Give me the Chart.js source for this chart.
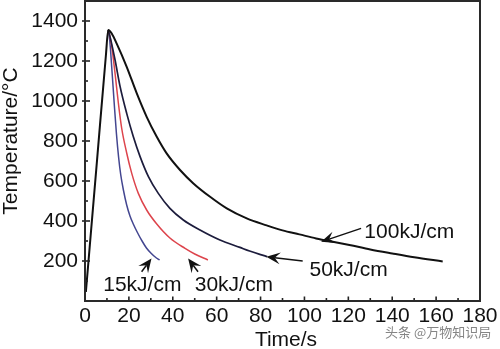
<!DOCTYPE html>
<html>
<head>
<meta charset="utf-8">
<script src="https://cdn.jsdelivr.net/npm/chart.js@4.4.0/dist/chart.umd.min.js"></script>
<style>
  html, body { margin: 0; padding: 0; background: #fff; }
  canvas { display: block; }
</style>
</head>
<body>
<canvas id="cooling" width="500" height="349"></canvas>
<script>
// Thermal cycles for different heat inputs (time in s, temperature in °C)
const heatInputs = ['100kJ/cm', '50kJ/cm', '30kJ/cm', '15kJ/cm'];

const time100 = [0.4, 5.5, 9.5, 10.6, 12.3, 14.4, 19, 23.6, 28.1, 32.7, 37.2, 43.3, 49.4, 57, 64.6, 73.7, 82.8, 90, 97.7, 105.3, 112.9, 120.5, 130, 140, 150, 163];
const temp100 = [45, 706, 1225, 1355, 1335, 1288, 1171, 1038, 921, 821, 738, 655, 588, 521, 463, 413, 378, 353, 333, 313, 296, 280, 258, 238, 219, 198];

const time50 = [10.6, 11.4, 13.7, 16, 19, 22, 25.1, 28.9, 33.4, 38.7, 44.8, 52.4, 61.5, 70.6, 75, 80, 83];
const temp50 = [1355, 1322, 1205, 1072, 938, 822, 722, 622, 538, 463, 405, 355, 305, 268, 250, 232, 222];

const time30 = [10.6, 11.4, 12.2, 13.7, 15.2, 16.7, 19, 21.3, 24.3, 28.1, 32.7, 38.7, 45.6, 50, 56];
const temp30 = [1355, 1320, 1272, 1138, 990, 865, 740, 638, 538, 455, 385, 315, 263, 235, 205];

const time15 = [10.6, 11.3, 12.3, 13.3, 14.3, 15.3, 16.3, 17.5, 19, 20.5, 22, 24, 26, 28, 30, 32, 34];
const temp15 = [1355, 1300, 1150, 990, 840, 720, 630, 555, 480, 425, 385, 340, 300, 265, 240, 220, 205];

const xTicks = [0, 20, 40, 60, 80, 100, 120, 140, 160, 180];
const yTicks = [200, 400, 600, 800, 1000, 1200, 1400];

// label callouts, in data units: text anchor, arrow tail, arrow tip
const callouts = [
  { text: heatInputs[0], at: [127.3, 346], from: [125.8, 363], to: [107.6, 296] },
  { text: heatInputs[1], at: [102.3, 155], from: [99.2, 200], to: [82.6, 221] },
  { text: heatInputs[2], at: [50, 80], from: [51.5, 146], to: [47, 213] },
  { text: heatInputs[3], at: [8.3, 80], from: [25.8, 146], to: [30.3, 213] }
];

const FONT = "'Liberation Sans', Arial, sans-serif";

function toPoints(ts, vs) {
  return ts.map((t, i) => ({ x: t, y: vs[i] }));
}

function drawArrow(ctx, x0, y0, x1, y1) {
  const ang = Math.atan2(y1 - y0, x1 - x0);
  const len = 14, half = 6, notch = 8.5;
  ctx.beginPath();
  ctx.moveTo(x0, y0);
  ctx.lineTo(x1 - Math.cos(ang) * notch, y1 - Math.sin(ang) * notch);
  ctx.stroke();
  ctx.save();
  ctx.translate(x1, y1);
  ctx.rotate(ang);
  ctx.beginPath();
  ctx.moveTo(0, 0);
  ctx.lineTo(-len, -half);
  ctx.lineTo(-notch, 0);
  ctx.lineTo(-len, half);
  ctx.closePath();
  ctx.fill();
  ctx.restore();
}

// frame, inward ticks, axis titles and callouts
const decorations = {
  id: 'decorations',
  afterDraw(chart) {
    const { ctx, chartArea: a, scales: { x, y } } = chart;
    ctx.save();

    ctx.strokeStyle = '#222';
    ctx.lineWidth = 1.6;
    for (let v = 0; v <= 180; v += 10) {
      const px = x.getPixelForValue(v);
      const len = v % 20 === 0 ? 4.5 : 3;
      ctx.beginPath();
      ctx.moveTo(px, a.bottom);
      ctx.lineTo(px, a.bottom - len);
      ctx.stroke();
    }
    for (let v = 100; v <= 1400; v += 100) {
      const py = y.getPixelForValue(v);
      const major = v % 200 === 0;
      ctx.beginPath();
      ctx.moveTo(a.left - (major ? 3 : 0), py);
      ctx.lineTo(a.left + (major ? 5 : 3), py);
      ctx.stroke();
    }

    ctx.strokeStyle = '#2a2a2a';
    ctx.lineWidth = 2;
    ctx.strokeRect(a.left, a.top, a.right - a.left, a.bottom - a.top);

    ctx.fillStyle = '#111';
    ctx.font = '21px ' + FONT;
    ctx.textAlign = 'center';
    ctx.textBaseline = 'middle';
    ctx.fillText('Time/s', 286, 340);
    ctx.save();
    ctx.translate(11, 141);
    ctx.rotate(-Math.PI / 2);
    ctx.fillText('Temperature/°C', 0, 0);
    ctx.restore();

    ctx.textAlign = 'left';
    ctx.strokeStyle = '#111';
    ctx.lineWidth = 1.5;
    callouts.forEach(c => {
      ctx.fillText(c.text, x.getPixelForValue(c.at[0]), y.getPixelForValue(c.at[1]));
      drawArrow(ctx,
        x.getPixelForValue(c.from[0]), y.getPixelForValue(c.from[1]),
        x.getPixelForValue(c.to[0]), y.getPixelForValue(c.to[1]));
    });

    ctx.fillStyle = '#858585';
    ctx.font = "13px 'Noto Sans CJK SC', sans-serif";
    ctx.fillText('头条 @万物知识局', 385, 332);
    ctx.restore();
  }
};

Chart.defaults.font.family = FONT;
Chart.defaults.font.size = 21;
Chart.defaults.color = '#111';

new Chart(document.getElementById('cooling'), {
  type: 'line',
  data: {
    datasets: [
      { label: heatInputs[0], data: toPoints(time100, temp100), borderColor: '#111111', borderWidth: 2 },
      { label: heatInputs[1], data: toPoints(time50, temp50), borderColor: '#1c1c3c', borderWidth: 1.7 },
      { label: heatInputs[2], data: toPoints(time30, temp30), borderColor: '#dd444c', borderWidth: 1.5 },
      { label: heatInputs[3], data: toPoints(time15, temp15), borderColor: '#434690', borderWidth: 1.5 }
    ]
  },
  options: {
    responsive: false,
    animation: false,
    layout: { padding: { top: 1, right: 20, left: 0, bottom: 0 } },
    elements: {
      point: { radius: 0 },
      line: { cubicInterpolationMode: 'monotone', fill: false }
    },
    plugins: {
      legend: { display: false },
      tooltip: { enabled: false }
    },
    scales: {
      x: {
        type: 'linear',
        min: 0,
        max: 180,
        afterBuildTicks: s => { s.ticks = xTicks.map(v => ({ value: v })); },
        ticks: { padding: 3, callback: v => String(v) },
        grid: { display: false, drawTicks: false },
        border: { display: false },
        afterFit: s => {
          s.height = 48;
          s.paddingLeft = 0;
          s.paddingRight = 0;
        }
      },
      y: {
        type: 'linear',
        min: 0,
        max: 1500,
        afterBuildTicks: s => { s.ticks = yTicks.map(v => ({ value: v })); },
        ticks: { padding: 7, callback: v => String(v) },
        grid: { display: false, drawTicks: false },
        border: { display: false },
        afterFit: s => {
          s.width = 85;
          s.paddingTop = 0;
          s.paddingBottom = 0;
        }
      }
    }
  },
  plugins: [decorations]
});
</script>
</body>
</html>
